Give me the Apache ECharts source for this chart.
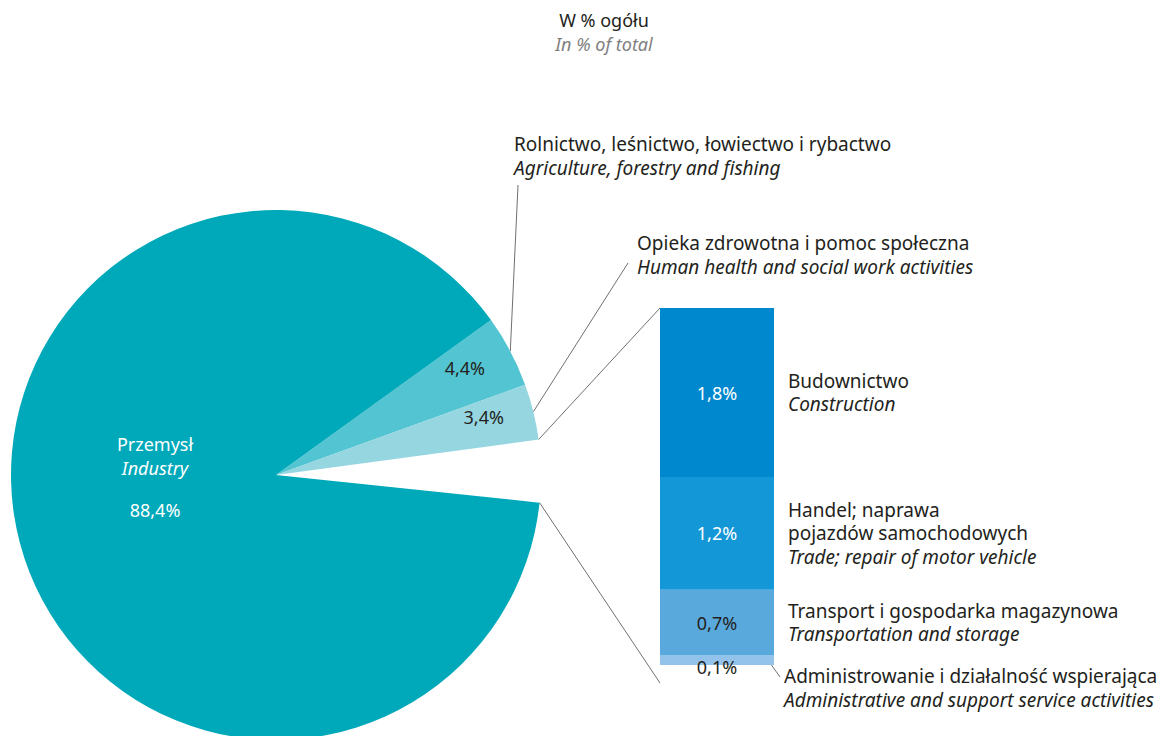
<!DOCTYPE html>
<html>
<head>
<meta charset="utf-8">
<script src="https://cdn.jsdelivr.net/npm/echarts@6/dist/echarts.min.js"></script>
<style>
  html, body { margin: 0; padding: 0; background: #fff; }
  #chart { width: 1170px; height: 736px; }
</style>
</head>
<body>
<div id="chart"></div>
<script>
// データ
const titlePl = 'W % ogółu';
const titleEn = 'In % of total';

const pieNamesPl = ['Rolnictwo, leśnictwo, łowiectwo i rybactwo', 'Opieka zdrowotna i pomoc społeczna', 'Pozostałe', 'Przemysł'];
const pieNamesEn = ['Agriculture, forestry and fishing', 'Human health and social work activities', 'Other', 'Industry'];
const pieValues = [4.4, 3.4, 3.8, 88.4];
const pieColors = ['#52c4d2', '#95d6e0', 'rgba(0,0,0,0)', '#00a9b9'];

const barNamesPl = ['Budownictwo', 'Handel; naprawa\npojazdów samochodowych', 'Transport i gospodarka magazynowa', 'Administrowanie i działalność wspierająca'];
const barNamesEn = ['Construction', 'Trade; repair of motor vehicle', 'Transportation and storage', 'Administrative and support service activities'];
const barValues = [1.8, 1.2, 0.7, 0.1];
const barColors = ['#0088cf', '#1497d7', '#5aa9dd', '#93c2ea'];

const FONT = '"Noto Sans"';
const FS = 19;
const TEXT = '#231f20';
const LINE = '#707070';
const fmt = v => v.toFixed(1).replace('.', ',') + '%';

// 円グラフの位置
const cx = 276, cy = 475, R = 265;
const total = pieValues.reduce((a, b) => a + b, 0);
const gapMid = 0.85;
const startAngle = gapMid + (pieValues[0] + pieValues[1] + pieValues[2] / 2) / total * 360;

// 各扇形の角度
let acc = startAngle;
const angles = pieValues.map(v => {
  const a0 = acc;
  acc -= v / total * 360;
  return [a0, acc];
});
const midAngle = i => (angles[i][0] + angles[i][1]) / 2;
const pt = (a, r) => [cx + r * Math.cos(a * Math.PI / 180), cy - r * Math.sin(a * Math.PI / 180)];

// 棒グラフの位置
const barLeft = 660, barTop = 308, barW = 114, barH = 357;
const barSum = barValues.reduce((a, b) => a + b, 0);

const chart = echarts.init(document.getElementById('chart'), null, { renderer: 'svg' });

const pieData = pieValues.map((v, i) => ({
  name: pieNamesPl[i],
  value: v,
  itemStyle: { color: pieColors[i] },
  label: i === 2 ? { show: false } : {
    show: true,
    color: i === 3 ? '#fff' : TEXT
  }
}));

// 積み上げは下から
const stackOrder = [3, 2, 1, 0];
const barSeries = stackOrder.map(i => ({
  type: 'bar',
  name: barNamesPl[i],
  stack: 'other',
  barWidth: '100%',
  silent: true,
  data: [barValues[i]],
  itemStyle: { color: barColors[i] },
  label: {
    show: true,
    position: 'inside',
    offset: i === 3 ? [0, 7] : [0, 0],
    formatter: p => fmt(p.value),
    color: i < 2 ? '#fff' : TEXT,
    fontFamily: FONT,
    fontSize: FS - 1
  }
}));

chart.setOption({
  animation: false,
  title: {
    text: titlePl,
    subtext: titleEn,
    left: 599,
    top: 5,
    textAlign: 'center',
    itemGap: 4,
    textStyle: { fontFamily: FONT, fontSize: FS - 1, lineHeight: 20, fontWeight: 'normal', color: TEXT },
    subtextStyle: { fontFamily: FONT, fontSize: FS - 1, lineHeight: 20, fontStyle: 'italic', color: '#808080' }
  },
  grid: { left: barLeft, top: barTop, width: barW, height: barH },
  xAxis: { type: 'category', data: ['x'], show: false },
  yAxis: { type: 'value', min: 0, max: barSum, show: false },
  series: [
    {
      type: 'pie',
      center: [cx, cy],
      radius: R,
      startAngle: startAngle,
      clockwise: true,
      silent: true,
      data: pieData,
      label: {
        position: 'inside',
        fontFamily: FONT,
        fontSize: FS - 1,
        formatter: p => p.dataIndex === 3
          ? '{pl|' + pieNamesPl[3] + '}\n{en|' + pieNamesEn[3] + '}\n\n{pl|' + fmt(p.value) + '}'
          : fmt(p.value),
        rich: {
          pl: { fontFamily: FONT, fontSize: FS - 1, color: '#fff', lineHeight: 24 },
          en: { fontFamily: FONT, fontSize: FS - 1, color: '#fff', fontStyle: 'italic', lineHeight: 24 }
        }
      },
      labelLine: { show: false },
      labelLayout: p => {
        if (p.dataIndex === 3) {
          return { x: 155, y: 477, align: 'center', verticalAlign: 'middle' };
        }
        const q = pt(midAngle(p.dataIndex), 217);
        return { x: q[0] - 3, y: q[1] - 6, align: 'center', verticalAlign: 'middle' };
      }
    },
    ...barSeries
  ]
});

// 引き出し線と説明文
const yAt = v => chart.convertToPixel({ gridIndex: 0 }, [0, v])[1];
const graphics = [];
const line = (a, b) => graphics.push({
  type: 'line', silent: true,
  shape: { x1: a[0], y1: a[1], x2: b[0], y2: b[1] },
  style: { stroke: LINE, lineWidth: 1 }
});
const textBlock = (x, yCenter, plText, enText) => {
  const lines = plText.split('\n').map(t => ({ t, italic: false }));
  lines.push({ t: enText, italic: true });
  const lh = 23.5;
  lines.forEach((l, k) => {
    graphics.push({
      type: 'text', silent: true,
      x: x,
      y: yCenter + (k - (lines.length - 1) / 2) * lh,
      style: {
        text: l.t,
        fill: TEXT,
        font: (l.italic ? 'italic ' : '') + FS + 'px ' + FONT,
        textAlign: 'left',
        textVerticalAlign: 'middle'
      }
    });
  });
};

// 円グラフの外側ラベル
line(pt(midAngle(0), R), [518, 185]);
textBlock(514, 156, pieNamesPl[0], pieNamesEn[0]);
line(pt(midAngle(1), R), [628, 263]);
textBlock(637, 255, pieNamesPl[1], pieNamesEn[1]);

// 扇形と棒をつなぐ線
const yTop = yAt(barSum);
const yBottom = yAt(0);
line(pt(angles[2][0], R), [barLeft, yTop]);
line(pt(angles[2][1], R), [barLeft, yBottom + 18]);

// 棒の説明文
let cum = barSum;
barValues.forEach((v, i) => {
  const mid = yAt(cum - v / 2);
  cum -= v;
  if (i === 3) {
    line([barLeft + barW - 4, yBottom - 2], [barLeft + barW + 6, yBottom + 12]);
    textBlock(784, yBottom + 23, barNamesPl[i], barNamesEn[i]);
  } else {
    textBlock(788, mid, barNamesPl[i], barNamesEn[i]);
  }
});

chart.setOption({ graphic: graphics });
</script>
</body>
</html>
